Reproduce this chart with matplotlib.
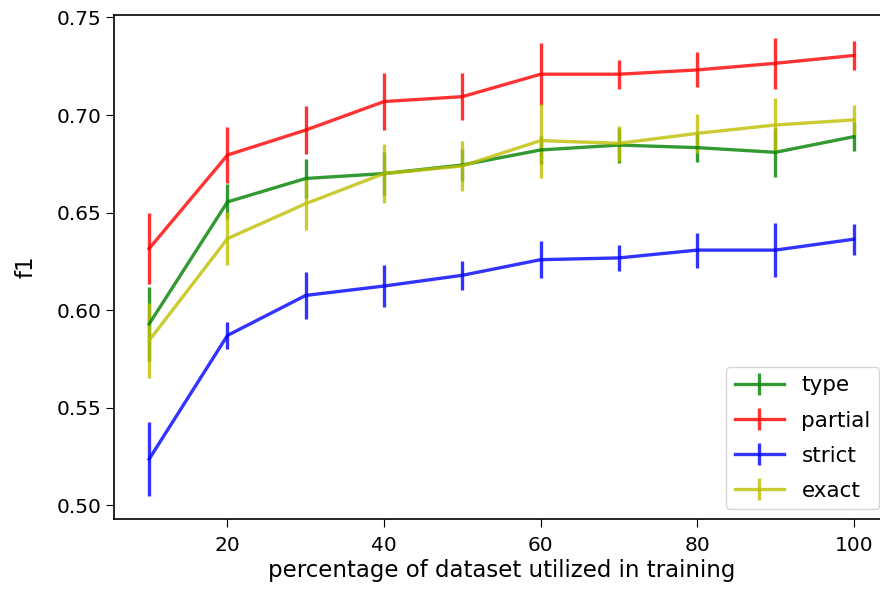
import numpy as np
import matplotlib
matplotlib.use("Agg")
import matplotlib.pyplot as plt

pct = [10, 20, 30, 40, 50, 60, 70, 80, 90, 100]

type_f1 = [0.593, 0.6555, 0.6675, 0.670, 0.6744, 0.6821, 0.6846, 0.6833, 0.6809, 0.6889]
type_err = [0.019, 0.009, 0.010, 0.011, 0.008, 0.007, 0.009, 0.0075, 0.0125, 0.0075]

partial_f1 = [0.6316, 0.6795, 0.6923, 0.7069, 0.7094, 0.7209, 0.7209, 0.7231, 0.7265, 0.7305]
partial_err = [0.018, 0.0145, 0.0125, 0.0145, 0.012, 0.016, 0.0075, 0.009, 0.013, 0.0075]

strict_f1 = [0.5238, 0.5871, 0.6076, 0.6124, 0.6179, 0.6259, 0.6268, 0.6308, 0.6308, 0.6364]
strict_err = [0.019, 0.007, 0.012, 0.0107, 0.0075, 0.0095, 0.0066, 0.009, 0.014, 0.008]

exact_f1 = [0.5845, 0.6367, 0.6546, 0.670, 0.6739, 0.6869, 0.6855, 0.6906, 0.6949, 0.6975]
exact_err = [0.019, 0.0135, 0.0135, 0.015, 0.013, 0.019, 0.009, 0.010, 0.014, 0.0075]

fs = 14.5
plt.rcParams['font.size'] = fs
plt.rcParams['xtick.major.size'] = 5.5
plt.rcParams['ytick.major.size'] = 5.5
plt.rcParams['xtick.major.pad'] = 6.5
plt.rcParams['axes.linewidth'] = 1.2

fig = plt.figure(figsize=(8.8, 5.93), dpi=100)
ax = fig.add_axes([0.1295, 0.1248, 0.8807, 0.8499])

lw = 2.4
ax.errorbar(pct, type_f1, yerr=type_err, color='g', alpha=0.8, lw=lw, label='type')
ax.errorbar(pct, partial_f1, yerr=partial_err, color='r', alpha=0.8, lw=lw, label='partial')
ax.errorbar(pct, strict_f1, yerr=strict_err, color='b', alpha=0.8, lw=lw, label='strict')
ax.errorbar(pct, exact_f1, yerr=exact_err, color='y', alpha=0.8, lw=lw, label='exact')

ax.set_xlabel("percentage of dataset utilized in training", fontsize=16.5, labelpad=3)
ax.set_ylabel("f1", fontsize=16.5, labelpad=14)
ax.legend(loc='lower right', fontsize=15.5, labelspacing=0.7, handlelength=2.3,
          handletextpad=0.8, borderaxespad=0.45)

fig.savefig("out.png", dpi=100)
